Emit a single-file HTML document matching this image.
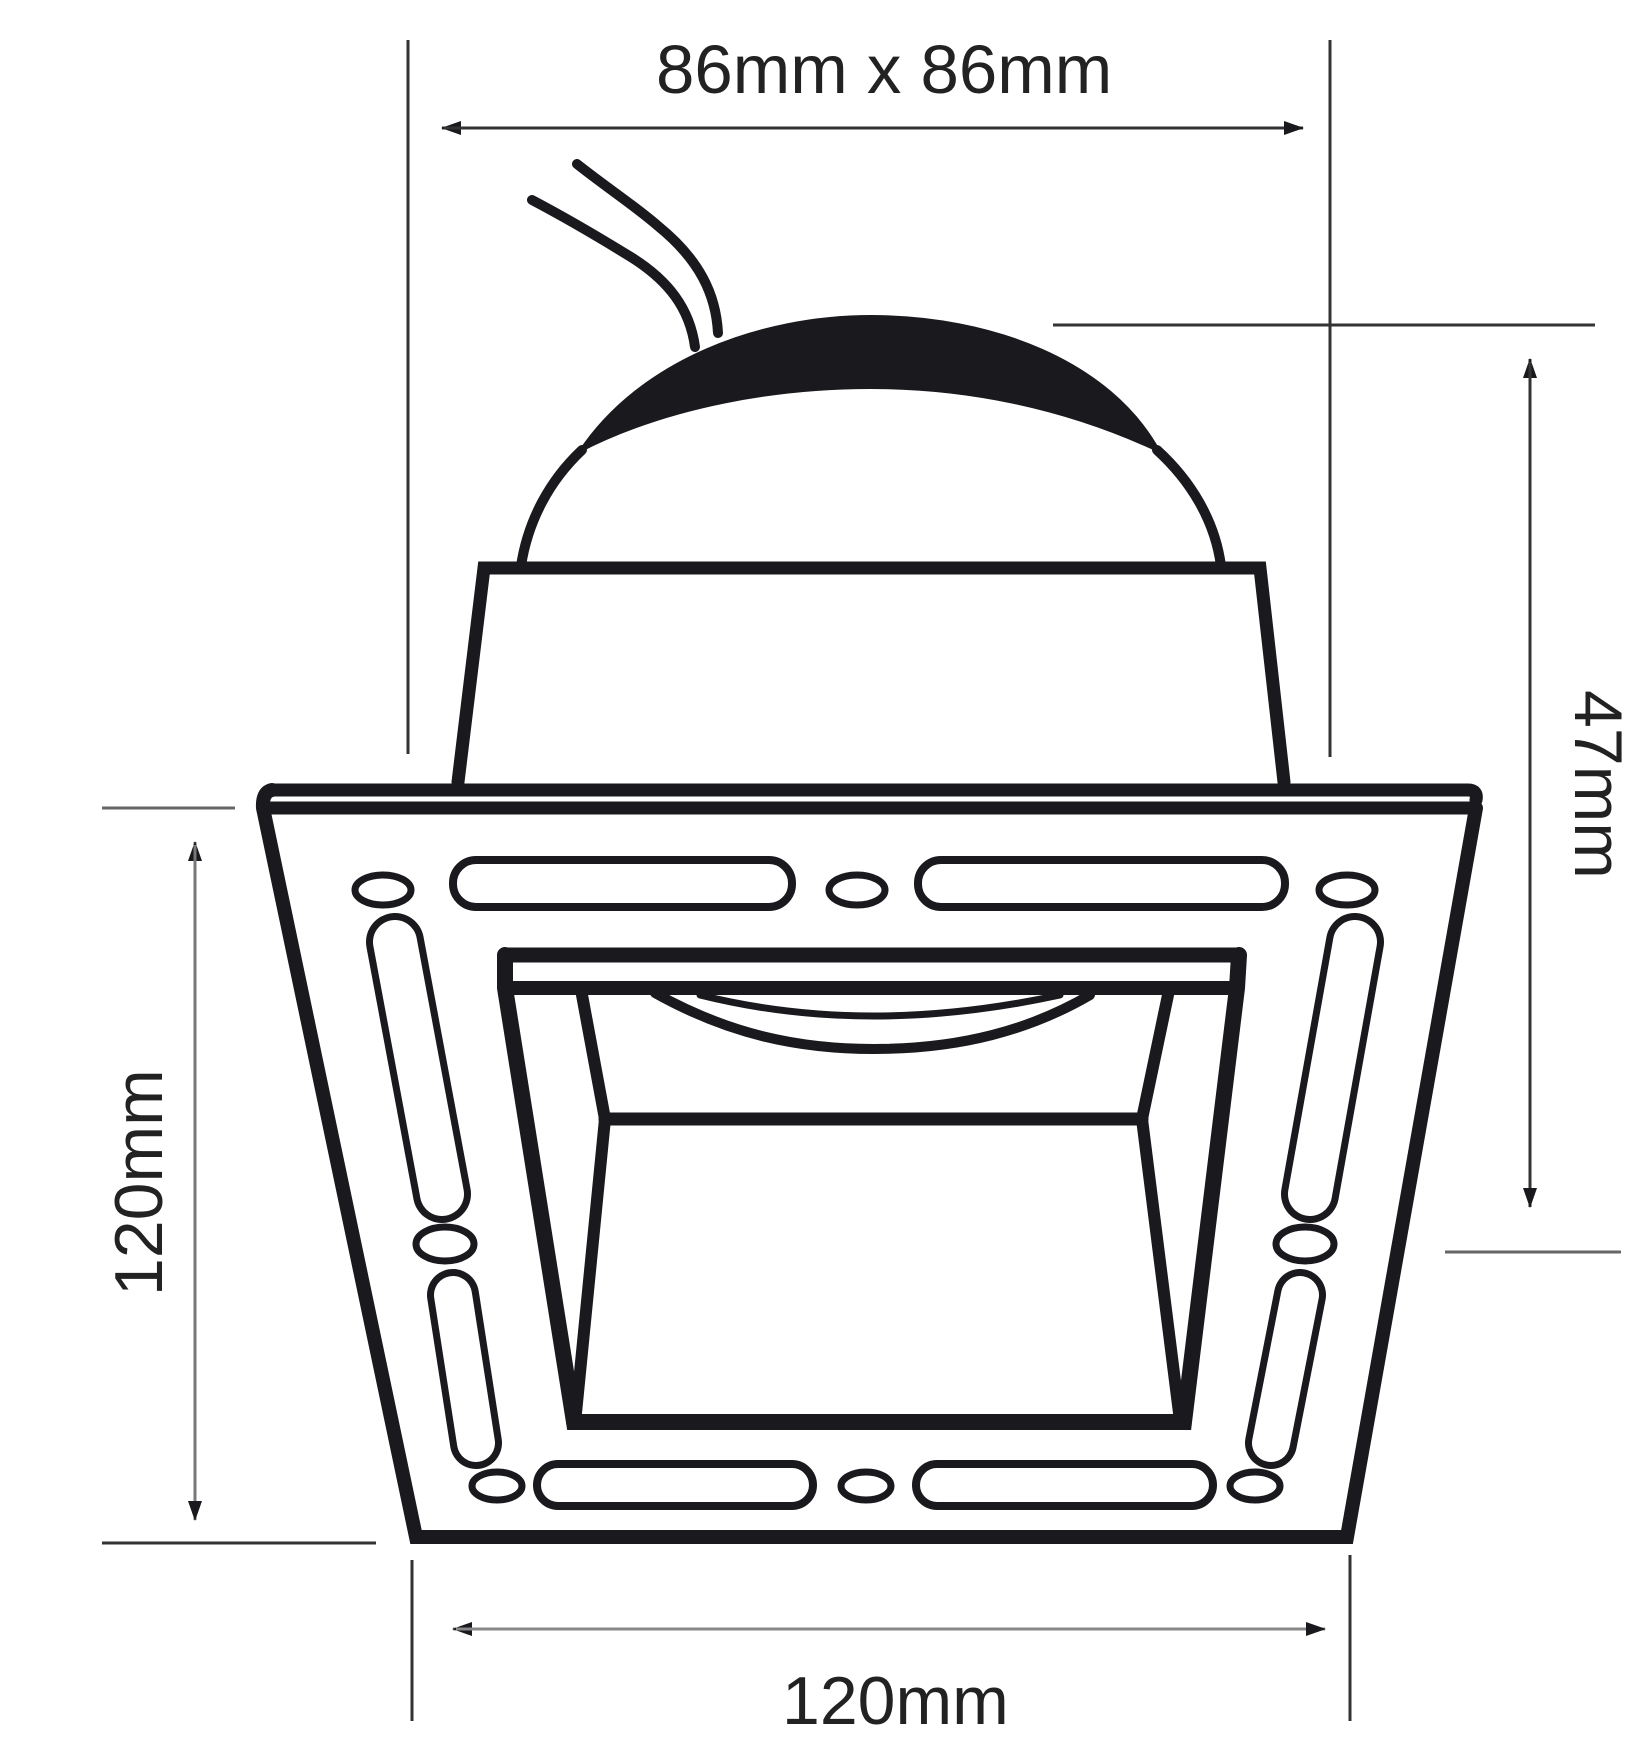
<!DOCTYPE html>
<html><head><meta charset="utf-8"><style>
html,body{margin:0;padding:0;background:#fff;}
svg{display:block;}
text{font-family:"Liberation Sans",Arial,sans-serif;fill:#222;}
</style></head><body>
<svg width="1643" height="1764" viewBox="0 0 1643 1764" xmlns="http://www.w3.org/2000/svg">
<defs>
<marker id="ah" markerWidth="20" markerHeight="14" refX="19" refY="7" orient="auto" markerUnits="userSpaceOnUse"><path d="M0,0 L20,7 L0,14 Z" fill="#1a1a1e"/></marker>
</defs>
<g stroke="#333" stroke-width="3" fill="none">
<line x1="408" y1="40" x2="408" y2="754"/>
<line x1="1330" y1="40" x2="1330" y2="757"/>
<line x1="1300" y1="128" x2="442" y2="128" marker-end="url(#ah)"/>
<line x1="444" y1="128" x2="1303" y2="128" marker-end="url(#ah)"/>
<line x1="1053" y1="325" x2="1595" y2="325"/>
<line x1="1445" y1="1252" x2="1621" y2="1252" stroke="#666"/>
<line x1="1530" y1="1200" x2="1530" y2="359" marker-end="url(#ah)"/>
<line x1="1530" y1="362" x2="1530" y2="1207" marker-end="url(#ah)"/>
<line x1="102" y1="808" x2="235" y2="808" stroke="#666"/>
<line x1="102" y1="1543" x2="376" y2="1543"/>
<line x1="195" y1="1515" x2="195" y2="842" marker-end="url(#ah)" stroke="#777"/>
<line x1="195" y1="845" x2="195" y2="1520" marker-end="url(#ah)" stroke="#777"/>
<line x1="412" y1="1560" x2="412" y2="1721"/>
<line x1="1350" y1="1555" x2="1350" y2="1721"/>
<line x1="1320" y1="1629" x2="453" y2="1629" marker-end="url(#ah)" stroke="#888"/>
<line x1="456" y1="1629" x2="1325" y2="1629" marker-end="url(#ah)" stroke="#888"/>
</g>
<text x="656" y="93" font-size="69">86mm x 86mm</text>
<text x="782" y="1724" font-size="68">120mm</text>
<text transform="translate(1575,690) rotate(90)" font-size="68">47mm</text>
<text transform="translate(162,1296) rotate(-90)" font-size="68">120mm</text>

<g stroke="#1a1a1e" fill="none" stroke-linecap="round" stroke-linejoin="round">
<path d="M532,200 C570,220 600,238 626,254 C670,280 690,310 695,347" stroke-width="10"/>
<path d="M577,164 C610,190 635,206 658,226 C700,260 716,295 718,333" stroke-width="10"/>
<path d="M579,452 C640,360 760,316 871,316 C990,316 1110,360 1160,452 C1060,405 960,388 871,388 C780,388 670,405 579,452 Z" fill="#1a1a1e" stroke-width="2"/>
<path d="M521,566 C528,520 550,480 582,450" stroke-width="10"/>
<path d="M1157,450 C1190,480 1215,520 1221,566" stroke-width="10"/>
<path d="M458,782 L484,568 L1260,568 L1284,782" stroke-width="13" stroke-linejoin="miter"/>
<path d="M272,790 L1468,790 Q1478,790 1476,800" stroke-width="13"/>
<path d="M263,808 L1476,808" stroke-width="13"/>
<path d="M272,790 Q262,792 263,808 L416,1537 L1347,1537 L1476,808" stroke-width="14" stroke-linejoin="miter"/>
<rect x="453" y="860" width="339" height="47" rx="23" stroke-width="8"/>
<rect x="918" y="860" width="367" height="47" rx="23" stroke-width="8"/>
<ellipse cx="383" cy="890" rx="28" ry="15" stroke-width="7"/>
<ellipse cx="857" cy="890" rx="28" ry="15" stroke-width="7"/>
<ellipse cx="1347" cy="890" rx="28" ry="15" stroke-width="7"/>
<rect x="537" y="1464" width="276" height="42" rx="21" stroke-width="8"/>
<rect x="916" y="1464" width="297" height="42" rx="21" stroke-width="8"/>
<ellipse cx="497" cy="1486" rx="25" ry="14" stroke-width="7"/>
<ellipse cx="866" cy="1486" rx="25" ry="14" stroke-width="7"/>
<ellipse cx="1255" cy="1486" rx="25" ry="14" stroke-width="7"/>
<line x1="395" y1="942" x2="442" y2="1194" stroke-width="58"/>
<line x1="395" y1="942" x2="442" y2="1194" stroke="#fff" stroke-width="44"/>
<line x1="453" y1="1295" x2="476" y2="1443" stroke-width="52"/>
<line x1="453" y1="1295" x2="476" y2="1443" stroke="#fff" stroke-width="38"/>
<line x1="1355" y1="942" x2="1310" y2="1194" stroke-width="58"/>
<line x1="1355" y1="942" x2="1310" y2="1194" stroke="#fff" stroke-width="44"/>
<line x1="1300" y1="1295" x2="1271" y2="1443" stroke-width="52"/>
<line x1="1300" y1="1295" x2="1271" y2="1443" stroke="#fff" stroke-width="38"/>
<ellipse cx="445" cy="1244" rx="29" ry="17" stroke-width="7"/>
<ellipse cx="1305" cy="1244" rx="29" ry="17" stroke-width="7"/>
<path d="M505,955 L1239,955" stroke-width="15"/>
<path d="M505,988 L1237,988" stroke-width="14"/>
<path d="M505,955 L505,988 L574,1422 L1184,1422 L1237,988 L1239,955" stroke-width="16" stroke-linejoin="miter"/>
<path d="M582,995 L605,1119 L576,1413" stroke-width="12"/>
<path d="M1168,995 L1142,1119 L1179,1413" stroke-width="12"/>
<path d="M605,1119 L1142,1119" stroke-width="13"/>
<path d="M655,993 C730,1035 800,1049 874,1049 C960,1049 1030,1030 1090,995" stroke-width="10"/>
<path d="M700,995 C760,1010 820,1016 874,1016 C940,1016 1000,1008 1060,995" stroke-width="7"/>
</g>
</svg>
</body></html>
